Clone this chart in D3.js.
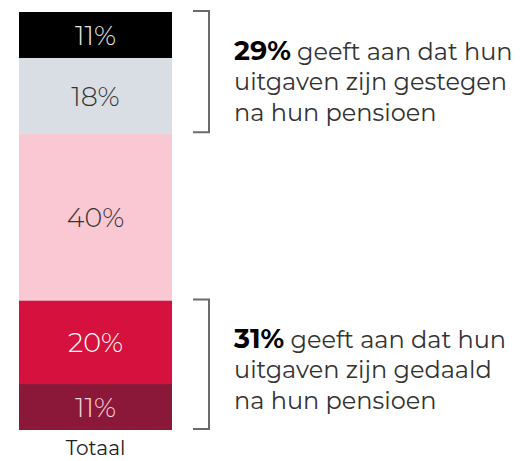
<!DOCTYPE html>
<html>
<head>
<meta charset="utf-8">
<script src="https://cdn.jsdelivr.net/npm/d3@7"></script>
<style>
  html, body { margin: 0; padding: 0; background: #fff; }
  svg { display: block; }
  text { font-family: Montserrat, "Open Sans", "Noto Sans", sans-serif; }
</style>
</head>
<body>
<svg id="chart" width="521" height="461"></svg>
<script>
// ---- data ----
const categories = ["Totaal"];
const seriesKeys = ["Sterk gedaald", "Gedaald", "Gelijk gebleven", "Gestegen", "Sterk gestegen"];
const seriesValues = [11, 20, 40, 18, 11]; // bottom to top
const seriesColors = ["#8c1839", "#d7113d", "#f9c8d3", "#d8dee3", "#000000"];
const labelColors = ["#f3d3dd", "#ffffff", "#333333", "#333333", "#e6e6e6"];
const annotationBold = ["29%", "31%"];
const annotationLines = [
  ["geeft aan dat hun", "uitgaven zijn gestegen", "na hun pensioen"],
  ["geeft aan dat hun", "uitgaven zijn gedaald", "na hun pensioen"]
];
// groups of series indices that each annotation covers
const annotationGroups = [[3, 4], [0, 1]];

// ---- chart ----
const svg = d3.select("#chart");
const x = d3.scaleBand().domain(categories).range([19, 172]).padding(0);
const y = d3.scaleLinear().domain([0, 100]).range([430, 12]);

const row = { cat: categories[0] };
seriesKeys.forEach((k, i) => row[k] = seriesValues[i]);
const stacked = d3.stack().keys(seriesKeys)([row]);

const g = svg.append("g");
stacked.forEach((s, i) => {
  const d = s[0];
  g.append("rect")
    .attr("x", x(d.data.cat))
    .attr("width", x.bandwidth())
    .attr("y", y(d[1]))
    .attr("height", y(d[0]) - y(d[1]))
    .attr("fill", seriesColors[i]);
  g.append("text")
    .attr("x", x(d.data.cat) + x.bandwidth() / 2)
    .attr("y", (y(d[0]) + y(d[1])) / 2 + 10)
    .attr("text-anchor", "middle")
    .attr("font-size", 27)
    .attr("font-weight", 300)
    .attr("fill", labelColors[i])
    .text(seriesValues[i] + "%");
});

// category label
svg.append("text")
  .attr("x", x(categories[0]) + x.bandwidth() / 2)
  .attr("y", 455)
  .attr("text-anchor", "middle")
  .attr("font-size", 20)
  .attr("fill", "#222")
  .text(categories[0]);

// brackets + annotations
annotationGroups.forEach((grp, gi) => {
  const lo = d3.min(grp, i => stacked[i][0][0]);
  const hi = d3.max(grp, i => stacked[i][0][1]);
  const y0 = y(hi) - 1, y1 = y(lo) - 1;
  const bx0 = 193, bx1 = 209;
  svg.append("path")
    .attr("d", `M${bx0},${y0}H${bx1}V${y1}H${bx0}`)
    .attr("fill", "none")
    .attr("stroke", "#6b6b6b")
    .attr("stroke-width", 2);
  const t = svg.append("text")
    .attr("x", 234)
    .attr("y", y0 + 48.5)
    .attr("font-size", 24)
    .attr("fill", "#333");
  annotationLines[gi].forEach((ln, li) => {
    const ts = t.append("tspan").attr("x", 234).attr("dy", li === 0 ? 0 : 30.5);
    if (li === 0) {
      ts.append("tspan").attr("font-weight", 700).attr("font-size", 27).attr("fill", "#000").text(annotationBold[gi]);
      ts.append("tspan").text(" " + ln);
    } else {
      ts.text(ln);
    }
  });
});
</script>
</body>
</html>
